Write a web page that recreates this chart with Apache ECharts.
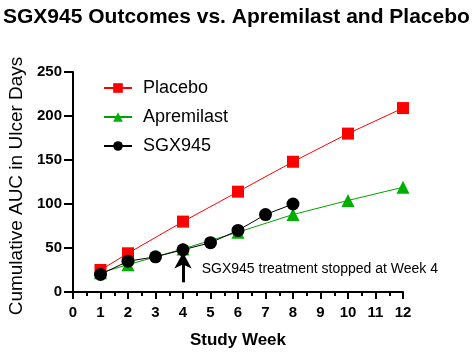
<!DOCTYPE html>
<html><head><meta charset="utf-8">
<script src="https://cdn.jsdelivr.net/npm/echarts@6/dist/echarts.min.js"></script>
<style>html,body{margin:0;padding:0;background:#fff}#c{width:476px;height:352px}</style>
</head><body><div id="c"></div>
<script>
var placeboWeeks = [1, 2, 4, 6, 8, 10, 12];
var placeboValues = [25, 44, 80, 114, 148, 180, 209];
var apremilastWeeks = [1, 2, 4, 6, 8, 10, 12];
var apremilastValues = [22, 31, 49, 68, 88, 104, 119];
var sgxWeeks = [1, 2, 3, 4, 5, 6, 7, 8];
var sgxValues = [20, 35, 40, 48, 56, 70, 88, 100];
var arrowFrom = [4, 11];
var arrowTo = [4, 45];
var noteAt = [4.68, 26];
var noteText = 'SGX945 treatment stopped at Week 4';

function pairs(xs, ys) { return xs.map(function (x, i) { return [x, ys[i]]; }); }

var font = 'Liberation Sans, Arial, sans-serif';
var chart = echarts.init(document.getElementById('c'), null, { renderer: 'canvas' });
chart.setOption({
  animation: false,
  textStyle: { fontFamily: font },
  title: {
    text: 'SGX945 Outcomes vs. Apremilast and Placebo',
    left: -2, top: 2,
    textStyle: { fontFamily: font, fontWeight: 'bold', fontSize: 21, color: '#000' }
  },
  legend: {
    orient: 'vertical', left: 98, top: 74, itemGap: 11,
    itemWidth: 28, itemHeight: 12,
    textStyle: { fontFamily: font, fontSize: 18, color: '#000', padding: [0, 0, 0, 6] },
    data: ['Placebo', 'Apremilast', 'SGX945']
  },
  grid: { left: 73, right: 73, top: 72, bottom: 60, containLabel: false, outerBoundsMode: 'none' },
  xAxis: {
    type: 'value', min: 0, max: 12, interval: 1,
    name: 'Study Week', nameLocation: 'middle', nameGap: 40,
    nameTextStyle: { fontFamily: font, fontWeight: 'bold', fontSize: 17, color: '#000' },
    axisLine: { lineStyle: { color: '#000', width: 2 } },
    axisTick: { length: 7, lineStyle: { color: '#000', width: 2 } },
    minorTick: { show: true, splitNumber: 2, length: 4, lineStyle: { color: '#000', width: 2 } },
    axisLabel: { fontFamily: font, fontWeight: 'bold', fontSize: 15, color: '#000', margin: 13 },
    splitLine: { show: false }
  },
  yAxis: {
    type: 'value', min: 0, max: 250, interval: 50,
    name: 'Cumulative AUC in Ulcer Days', nameLocation: 'middle', nameGap: 46,
    nameTextStyle: { fontFamily: font, fontSize: 19, color: '#000', padding: [0, 8, 0, 0] },
    axisLine: { show: true, lineStyle: { color: '#000', width: 2 } },
    axisTick: { show: true, length: 9, lineStyle: { color: '#000', width: 2 } },
    axisLabel: { fontFamily: font, fontWeight: 'bold', fontSize: 15, color: '#000', margin: 11 },
    splitLine: { show: false }
  },
  series: [
    {
      name: 'Placebo', type: 'line', data: pairs(placeboWeeks, placeboValues),
      symbol: 'rect', symbolSize: 12,
      itemStyle: { color: '#ff0000' }, lineStyle: { color: '#ff0000', width: 1 }, z: 3
    },
    {
      name: 'Apremilast', type: 'line', data: pairs(apremilastWeeks, apremilastValues),
      symbol: 'triangle', symbolSize: 13,
      itemStyle: { color: '#00b000' }, lineStyle: { color: '#00a000', width: 1 }, z: 2
    },
    {
      name: 'SGX945', type: 'line', data: pairs(sgxWeeks, sgxValues),
      symbol: 'circle', symbolSize: 13,
      itemStyle: { color: '#000' }, lineStyle: { color: '#000', width: 1 }, z: 4,
      markLine: {
        silent: true, symbol: ['none', 'arrow'], symbolSize: [13, 16],
        lineStyle: { color: '#000', width: 3, type: 'solid' },
        label: { show: false },
        data: [[{ coord: arrowFrom }, { coord: arrowTo }]]
      },
      markPoint: {
        silent: true, symbol: 'circle', symbolSize: 0,
        label: { show: true, position: 'right', distance: 0, formatter: noteText,
          fontFamily: font, fontSize: 14, color: '#000' },
        data: [{ coord: noteAt }]
      }
    }
  ]
});
</script></body></html>
